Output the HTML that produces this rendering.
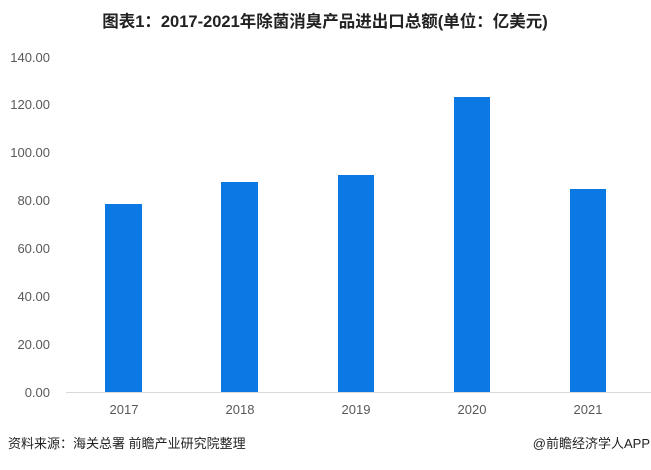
<!DOCTYPE html>
<html><head><meta charset="utf-8"><style>
body{margin:0;background:#fff;width:651px;height:465px;overflow:hidden;font-family:"Liberation Sans","Noto Sans CJK SC",sans-serif;}
</style></head><body>
<svg width="651" height="465" xmlns="http://www.w3.org/2000/svg" style="font-family:'Liberation Sans','Noto Sans CJK SC',sans-serif">
<text x="325" y="27" text-anchor="middle" font-size="16.5" font-weight="bold" fill="#222">图表1：2017-2021年除菌消臭产品进出口总额(单位：亿美元)</text>
<g font-size="13" fill="#595959" text-anchor="end">
<text x="50" y="397">0.00</text>
<text x="50" y="349">20.00</text>
<text x="50" y="301">40.00</text>
<text x="50" y="253">60.00</text>
<text x="50" y="205">80.00</text>
<text x="50" y="157">100.00</text>
<text x="50" y="109">120.00</text>
<text x="50" y="62">140.00</text>
</g>
<line x1="66" y1="392.5" x2="651" y2="392.5" stroke="#d9d9d9" stroke-width="1"/>
<g fill="#0b78e3">
<rect x="105" y="204" width="37" height="188"/>
<rect x="221" y="182" width="37" height="210"/>
<rect x="338" y="175" width="36" height="217"/>
<rect x="454" y="97" width="36" height="295"/>
<rect x="570" y="189" width="36" height="203"/>
</g>
<g font-size="13" fill="#595959" text-anchor="middle">
<text x="124" y="414">2017</text>
<text x="240" y="414">2018</text>
<text x="356" y="414">2019</text>
<text x="472" y="414">2020</text>
<text x="588" y="414">2021</text>
</g>
<text x="8" y="448" font-size="13" fill="#222">资料来源：海关总署 前瞻产业研究院整理</text>
<text x="650" y="448" font-size="13" fill="#222" text-anchor="end">@前瞻经济学人APP</text>
</svg>
</body></html>
